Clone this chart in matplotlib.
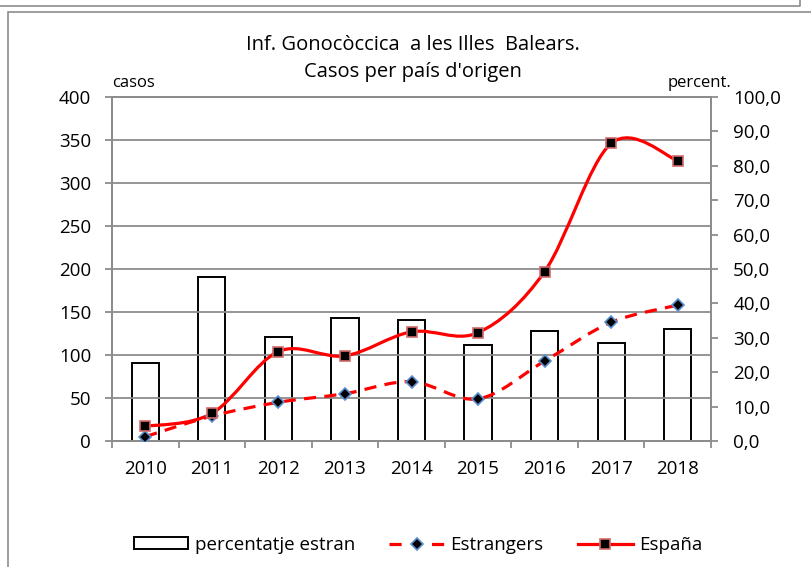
import numpy as np
import matplotlib
matplotlib.use("Agg")
import matplotlib.pyplot as plt
from matplotlib.path import Path
from matplotlib.patches import PathPatch, Rectangle
from matplotlib.lines import Line2D

plt.rcParams['font.family'] = ['Open Sans', 'DejaVu Sans']

# dades llegides del grafic
anys = [2010, 2011, 2012, 2013, 2014, 2015, 2016, 2017, 2018]
espanya = [17, 32, 104, 99, 127, 126, 197, 346, 326]
estrangers = [5, 29, 45, 55, 69, 49, 93, 138, 158]
percentatge = [22.7, 47.8, 30.3, 35.7, 35.2, 28.0, 32.1, 28.6, 32.7]

casos_ticks = [0, 50, 100, 150, 200, 250, 300, 350, 400]
percent_ticks = [0, 10, 20, 30, 40, 50, 60, 70, 80, 90, 100]

GRIS = '#8c8c8c'
VERMELL = '#ff0000'


def SmoothPath(xs, ys):
    """corba suau tipus Excel amb beziers (punts de control a 1/6)"""
    verts = [(xs[0], ys[0])]
    codes = [Path.MOVETO]
    n = len(xs)
    for i in range(n - 1):
        a = i - 1 if i > 0 else i
        b = i + 2 if i + 2 < n else i + 1
        c1 = (xs[i] + (xs[i + 1] - xs[a]) / 6, ys[i] + (ys[i + 1] - ys[a]) / 6)
        c2 = (xs[i + 1] - (xs[b] - xs[i]) / 6, ys[i + 1] - (ys[b] - ys[i]) / 6)
        verts += [c1, c2, (xs[i + 1], ys[i + 1])]
        codes += [Path.CURVE4] * 3
    return Path(verts, codes)


W, H = 811, 567
fig = plt.figure(figsize=(W / 100, H / 100), dpi=100)

# marcs exteriors
fig.add_artist(Line2D([0, 800 / W, 800 / W], [1 - 6 / H, 1 - 6 / H, 1.0],
                      transform=fig.transFigure, color=GRIS, lw=1.2))
fig.add_artist(Rectangle((8 / W, -0.1), 1.2, 1.1 - 12 / H, transform=fig.transFigure,
                         fill=False, edgecolor=GRIS, lw=1.2))

ax = fig.add_axes([112 / W, 1 - 441 / H, (711 - 112) / W, (441 - 97) / H])
ax2 = ax.twinx()

# barres (eix dret)
ax2.bar(anys, percentatge, width=0.41, facecolor='none', edgecolor='black', lw=1.4, zorder=2)
ax2.set_ylim(0, 100)
ax2.set_yticks(percent_ticks)
ax2.set_yticklabels([f"{v:.1f}".replace('.', ',') for v in percent_ticks])

# linies (eix esquerre)
ax.set_zorder(ax2.get_zorder() + 1)
ax.patch.set_visible(False)
ax.add_patch(PathPatch(SmoothPath(anys, estrangers), fill=False, edgecolor=VERMELL, lw=2.3,
                       linestyle=(0, (3.8, 2.6)), capstyle='butt', zorder=3))
ax.add_patch(PathPatch(SmoothPath(anys, espanya), fill=False, edgecolor=VERMELL, lw=2.3, zorder=3))
ax.plot(anys, estrangers, ls='none', marker='D', ms=6.5, mfc='black', mec='#5b8fd0', mew=1.2, zorder=4)
ax.plot(anys, espanya, ls='none', marker='s', ms=6.5, mfc='black', mec='#d46a6a', mew=1.2, zorder=4)

ax.set_ylim(0, 400)
ax.set_xlim(2009.5, 2018.5)
ax.set_yticks(casos_ticks)
ax.set_xticks(anys)
ax.set_xticks(np.arange(2009.5, 2019, 1), minor=True)
ax.grid(axis='y', color=GRIS, lw=1.3)
ax.set_axisbelow(True)

for a in (ax, ax2):
    for s in a.spines.values():
        s.set_color(GRIS)
        s.set_linewidth(1.3)
ax.tick_params(axis='y', length=5, color=GRIS, width=1.3, labelsize=13.5, pad=10)
ax.tick_params(axis='x', which='major', length=0, labelsize=13.5, pad=14)
ax.tick_params(axis='x', which='minor', length=5, color=GRIS, width=1.3)
ax2.tick_params(axis='y', length=5, color=GRIS, width=1.3, labelsize=13.5, pad=11)

fig.text(413 / W, 1 - 45 / H, "Inf. Gonocòccica  a les Illes  Balears.", ha='center', va='center', fontsize=14.5)
fig.text(413 / W, 1 - 72 / H, "Casos per país d'origen", ha='center', va='center', fontsize=14.5)
fig.text(112 / W, 1 - 83 / H, "casos", ha='left', va='center', fontsize=12)
fig.text(731 / W, 1 - 83 / H, "percent.", ha='right', va='center', fontsize=12)

handles = [
    Rectangle((0, 0), 1, 1, facecolor='white', edgecolor='black', lw=1.4),
    Line2D([], [], color=VERMELL, lw=2.3, ls=(0, (3.8, 9.5)), marker='D', ms=6.5,
           mfc='black', mec='#5b8fd0', mew=1.2),
    Line2D([], [], color=VERMELL, lw=2.3, marker='s', ms=6.5, mfc='black', mec='#d46a6a', mew=1.2),
]
labels = ["percentatje estran", "Estrangers", "España"]
fig.legend(handles, labels, loc='center', bbox_to_anchor=(418 / W, 1 - 545 / H), ncol=3,
           frameon=False, fontsize=13.5, handlelength=2.9, handleheight=0.6,
           handletextpad=0.35, columnspacing=1.85)

fig.savefig("out.png", dpi=100)
